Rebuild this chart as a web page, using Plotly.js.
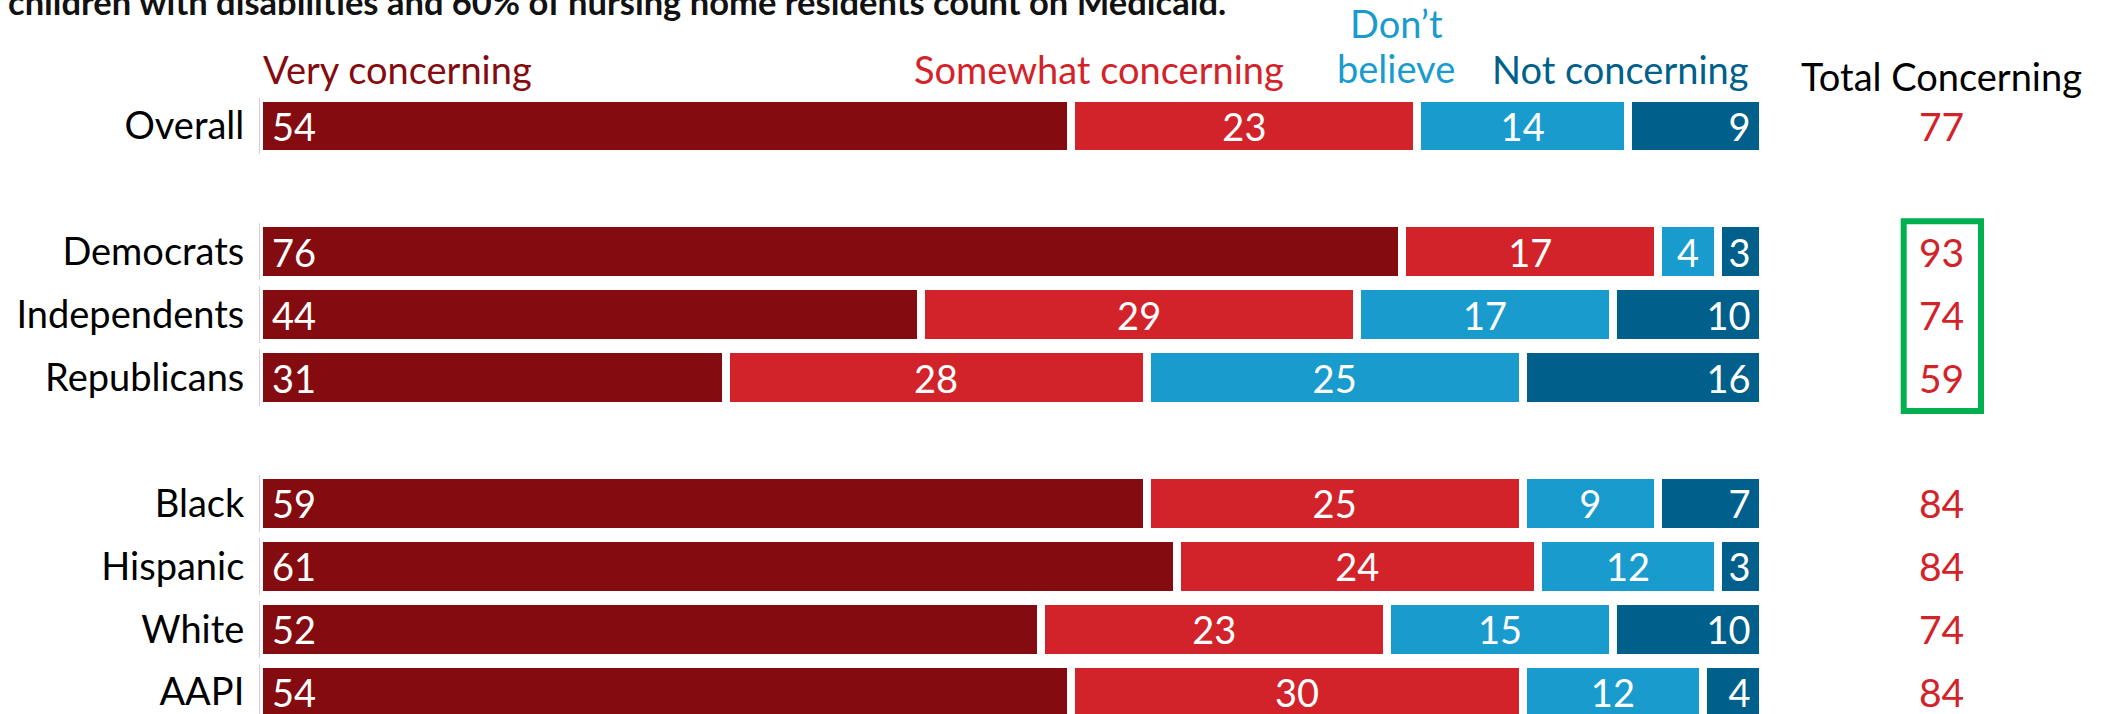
<!DOCTYPE html>
<html>
<head>
<meta charset="utf-8">
<script src="https://cdn.plot.ly/plotly-3.0.1.min.js"></script>
<style>
  html, body { margin: 0; padding: 0; background: #ffffff; }
  #chart { width: 2110px; height: 714px; }
</style>
</head>
<body>
<div id="chart"></div>
<script>
// ---- Data ----
var groups = ['Overall', 'Democrats', 'Independents', 'Republicans', 'Black', 'Hispanic', 'White', 'AAPI'];
var rowOrder = ['Overall', ' ', 'Democrats', 'Independents', 'Republicans', '  ', 'Black', 'Hispanic', 'White', 'AAPI'];
var veryConcerning = [54, 76, 44, 31, 59, 61, 52, 54];
var somewhatConcerning = [23, 17, 29, 28, 25, 24, 23, 30];
var dontBelieve = [14, 4, 17, 25, 9, 12, 15, 12];
var notConcerning = [9, 3, 10, 16, 7, 3, 10, 4];
var totalConcerning = [77, 93, 74, 59, 84, 84, 74, 84];
var seriesNames = ['Very concerning', 'Somewhat concerning', 'Don\u2019t<br>believe', 'Not concerning'];
var headerText = 'Total Concerning';
var topText = 'children with disabilities and 60% of nursing home residents count on Medicaid.';

// ---- Styles ----
var W = 2110, H = 714;
var FONT = 'Lato, "Liberation Sans", sans-serif';
var colors = ['#840C10', '#D3232A', '#1A9BCE', '#005F8B'];
var anchors = ['start', 'middle', 'middle', 'end'];
var seriesVals = [veryConcerning, somewhatConcerning, dontBelieve, notConcerning];
var PAD = '\u00A0';

function px2x(p) { return p / W; }
function bottomAt(baseline, size) { return 1 - (baseline + 0.27 * size + 1) / H; }

var traces = seriesVals.map(function (vals, i) {
  return {
    type: 'bar',
    orientation: 'h',
    y: groups,
    x: vals,
    name: seriesNames[i],
    marker: { color: colors[i], line: { color: '#ffffff', width: 8 } },
    text: vals.map(function (v) {
      if (anchors[i] === 'start') return PAD + v;
      if (anchors[i] === 'end') return v + PAD;
      return String(v);
    }),
    textposition: 'inside',
    insidetextanchor: anchors[i],
    constraintext: 'none',
    textangle: 0,
    insidetextfont: { family: FONT, size: 38, color: '#ffffff' },
    hoverinfo: 'skip'
  };
});

var annotations = [];
// top (cut-off) subtitle line
annotations.push({
  xref: 'paper', yref: 'paper', x: px2x(6), y: bottomAt(14, 34.5),
  xanchor: 'left', yanchor: 'bottom', showarrow: false,
  text: '<b>' + topText + '</b>',
  font: { family: FONT, size: 34.5, color: '#111111' }
});
// series header labels
var legendSpecs = [
  { x: 261, anchor: 'left', baselines: [83] },
  { x: 1286, anchor: 'right', baselines: [83] },
  { x: 1396, anchor: 'center', baselines: [37, 82] },
  { x: 1751, anchor: 'right', baselines: [83] }
];
legendSpecs.forEach(function (s, i) {
  var lines = seriesNames[i].split('<br>');
  lines.forEach(function (line, j) {
    annotations.push({
      xref: 'paper', yref: 'paper', x: px2x(s.x), y: bottomAt(s.baselines[j], 38),
      xanchor: s.anchor, yanchor: 'bottom', showarrow: false, align: 'center',
      text: line,
      font: { family: FONT, size: 38, color: colors[i] }
    });
  });
});
// Total header
annotations.push({
  xref: 'paper', yref: 'paper', x: px2x(1941), y: bottomAt(90, 38),
  xanchor: 'center', yanchor: 'bottom', showarrow: false,
  text: headerText,
  font: { family: FONT, size: 38, color: '#000000' }
});
// total values
groups.forEach(function (g, i) {
  annotations.push({
    xref: 'paper', yref: 'y', x: px2x(1941), y: g,
    xanchor: 'center', yanchor: 'middle', showarrow: false,
    text: String(totalConcerning[i]),
    font: { family: FONT, size: 39, color: '#D3232A' }
  });
});

var layout = {
  width: W, height: H,
  margin: { l: 0, r: 0, t: 0, b: 0, pad: 0 },
  paper_bgcolor: '#ffffff', plot_bgcolor: '#ffffff',
  barmode: 'stack',
  bargap: 0.1,
  showlegend: false,
  xaxis: {
    domain: [px2x(259.3), px2x(1763.3)],
    range: [0, 100],
    visible: false,
    fixedrange: true
  },
  yaxis: {
    type: 'category',
    categoryorder: 'array',
    categoryarray: rowOrder,
    range: [9.348, -2.003],
    autorange: false,
    showgrid: false, zeroline: false, showline: false,
    ticks: '',
    ticklabelstandoff: 14,
    tickfont: { family: FONT, size: 38, color: '#000000' },
    fixedrange: true
  },
  annotations: annotations,
  shapes: [{
    type: 'rect', xref: 'paper', yref: 'paper',
    x0: px2x(1903.7), x1: px2x(1981), y0: 1 - 411 / H, y1: 1 - 221.3 / H,
    line: { color: '#00B04F', width: 6 }, fillcolor: 'rgba(0,0,0,0)'
  }]
};

Plotly.newPlot('chart', traces, layout, { staticPlot: true, displayModeBar: false });
</script>
</body>
</html>
